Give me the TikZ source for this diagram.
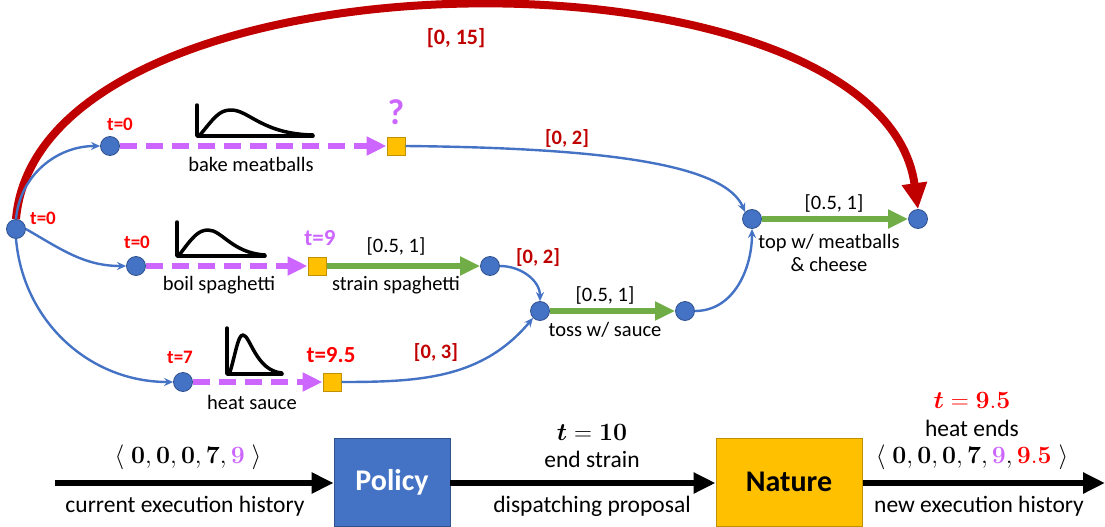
\documentclass[tikz,border=0pt]{standalone}
\usepackage[no-math]{fontspec}
\setmainfont{Carlito}
\usepackage{amsmath}
\usetikzlibrary{arrows.meta}
\definecolor{evblue}{HTML}{4472C4}
\definecolor{evedge}{HTML}{2F528F}
\definecolor{gold}{HTML}{FFC000}
\definecolor{golddark}{HTML}{BF9000}
\definecolor{actgreen}{HTML}{70AD47}
\definecolor{lilac}{HTML}{CC66FF}
\definecolor{darkred}{HTML}{C00000}
\definecolor{hotred}{HTML}{FF0000}
\tikzset{
  ev/.style={circle, fill=evblue, draw=evedge, line width=0.8pt, minimum size=19pt, inner sep=0pt},
  obs/.style={rectangle, fill=gold, draw=golddark, line width=1pt, minimum size=18pt, inner sep=0pt},
  link/.style={draw=evblue, line width=2.4pt, -{Stealth[length=9pt,width=8pt]}},
  act/.style={draw=actgreen, line width=6pt, -{Triangle[length=20pt,width=18pt]}},
  dur/.style={draw=lilac, line width=6pt, dash pattern=on 17pt off 9pt, -{Triangle[length=20pt,width=18pt]}},
  lbl/.style={font=\fontsize{20.5}{22}\selectfont, inner sep=0pt},
  bnd/.style={font=\fontsize{20.5}{22}\selectfont\bfseries, text=darkred, inner sep=0pt},
  tlab/.style={font=\fontsize{19}{21}\selectfont\bfseries, text=hotred, inner sep=0pt},
  pdf/.style={line width=3.5pt, line cap=round, line join=round},
  flow/.style={line width=6pt, -{Triangle[length=22pt,width=20pt]}},
  blab/.style={font=\fontsize{23.5}{25}\selectfont, inner sep=0pt},
  mlab/.style={font=\fontsize{26}{28}\selectfont, inner sep=0pt},
}
\newcommand{\bm}[1]{\boldsymbol{#1}}
\newcommand{\bd}[1]{\mathbf{#1}}
\begin{document}
\begin{tikzpicture}[x=1pt, y=-1pt]
\useasboundingbox (0,0) rectangle (1105,527);

% events and observation points
\node[ev] (s)    at (16,229) {};
\node[ev] (bm)   at (110,146) {};
\node[obs] (q)   at (396,146) {};
\node[ev] (bs)   at (136,266) {};
\node[obs] (q9)  at (317,266) {};
\node[ev] (se)   at (490,266) {};
\node[ev] (ts)   at (540,311) {};
\node[ev] (te)   at (685,311) {};
\node[ev] (hs)   at (183,382) {};
\node[obs] (q95) at (332,382) {};
\node[ev] (ms)   at (752,219) {};
\node[ev] (me)   at (918,219) {};

% overall deadline
\draw[draw=darkred, line width=8pt, -{Triangle[length=26pt,width=24pt]}]
  (s.north) .. controls (40,-60) and (880,-65) .. (me.north);
\node[bnd, font=\fontsize{22}{24}\selectfont\bfseries] (b15) at (456,38) {[0, 15]};

% links from the start event
\draw[link] (s.north) to[out=85, in=180] (bm.west);
\draw[link] (s.east) to[out=-30, in=180] (bs.west);
\draw[link] (s.south) to[out=-85, in=180] (hs.west);

% uncontrollable durations
\draw[dur] (bm.east) -- (q.west);
\draw[dur] (bs.east) -- (q9.west);
\draw[dur] (hs.east) -- (q95.west);

% controllable activities
\draw[act] (q9.east) -- (se.west);
\draw[act] (ts.east) -- (te.west);
\draw[act] (ms.east) -- (me.west);

% wait constraints
\draw[link] (q.east) .. controls (610,148) and (725,165) .. (ms.north west);
\draw[link] (se.east) to[out=0, in=90] (ts.north);
\draw[link] (q95.east) to[out=0, in=-130] (ts.south west);
\draw[link] (te.east) to[out=0, in=-90] (ms.south);

% interval labels
\node[bnd] (b2a) at (567,139) {[0, 2]};
\node[bnd] (b2b) at (538,258) {[0, 2]};
\node[bnd] (b3)  at (436,353) {[0, 3]};
\node[lbl] (i1) at (396,246) {[0.5, 1]};
\node[lbl] (i2) at (605,295) {[0.5, 1]};
\node[lbl] (i3) at (834,203) {[0.5, 1]};

% activity names
\node[lbl] (n1) at (251,164) {bake meatballs};
\node[lbl] (n2) at (219,285) {boil spaghetti};
\node[lbl] (n3) at (252,402) {heat sauce};
\node[lbl] (n4) at (396,285) {strain spaghetti};
\node[lbl] (n5) at (605,330) {toss w/ sauce};
\node[lbl, align=center, font=\fontsize{20.5}{23}\selectfont] (n6) at (829,253) {top w/ meatballs\\\& cheese};

% time stamps
\node[tlab] (t0s) at (43,218) {t=0};
\node[tlab] (t0a) at (120,124) {t=0};
\node[tlab] (t0b) at (137,242) {t=0};
\node[tlab] (t7)  at (180,357) {t=7};
\node[tlab, font=\fontsize{23}{25}\selectfont\bfseries] (t95) at (331,355) {t=9.5};
\node[tlab, text=lilac, font=\fontsize{23}{25}\selectfont\bfseries] (t9) at (320,238) {t=9};
\node[tlab, text=lilac, font=\fontsize{36}{38}\selectfont\bfseries] (qm) at (396,112) {?};

% duration distributions
\draw[pdf] (197,105) -- (197,136) -- (313,136);
\draw[pdf] (200,135) .. controls (214,118) and (219,110) .. (231,110)
  .. controls (249,110) and (262,134) .. (313,135);
\draw[pdf] (177,222) -- (177,256) -- (265,256);
\draw[pdf] (180,254) .. controls (192,238) and (198,230) .. (208,230)
  .. controls (222,230) and (232,253) .. (265,255);
\draw[pdf] (227,328) -- (227,374) -- (282,374);
\draw[pdf] (230,372) .. controls (236,352) and (238,335) .. (243,335)
  .. controls (250,335) and (256,371) .. (282,373);

% execution loop
\node[rectangle, fill=evblue, draw=evedge, line width=0.8pt, minimum width=116pt, minimum height=88pt,
  text=white, font=\fontsize{30}{32}\selectfont\bfseries] (pol) at (392,482) {Policy};
\node[rectangle, fill=gold, draw=golddark, line width=1pt, minimum width=146pt, minimum height=88pt,
  font=\fontsize{30}{32}\selectfont\bfseries] (nat) at (789,482) {Nature};
\coordinate (hin) at (55,483);
\coordinate (hout) at (1105,483);
\draw[flow] (hin) -- (pol.west |- hin);
\draw[flow] (pol.east |- hin) -- (nat.west |- hin);
\draw[flow] (nat.east |- hin) -- (hout);

\node[mlab] (h1) at (188,457) {$\langle\;\bd{0}, \bd{0}, \bd{0}, \bd{7}, \textcolor{lilac}{\bd{9}}\;\rangle$};
\node[blab] (c1) at (185,506) {current execution history};
\node[mlab] (t10) at (592,432) {$\bm{t}=\bd{10}$};
\node[blab] (es) at (592,459) {end strain};
\node[blab] (dp) at (592,506) {dispatching proposal};
\node[mlab, text=hotred] (t95b) at (972,400) {$\bm{t}=\bd{9.5}$};
\node[blab] (he) at (972,428) {heat ends};
\node[mlab] (h2) at (972,457) {$\langle\;\bd{0}, \bd{0}, \bd{0}, \bd{7}, \textcolor{lilac}{\bd{9}}, \textcolor{hotred}{\bd{9.5}}\;\rangle$};
\node[blab] (c2) at (979,506) {new execution history};
\end{tikzpicture}
\end{document}
